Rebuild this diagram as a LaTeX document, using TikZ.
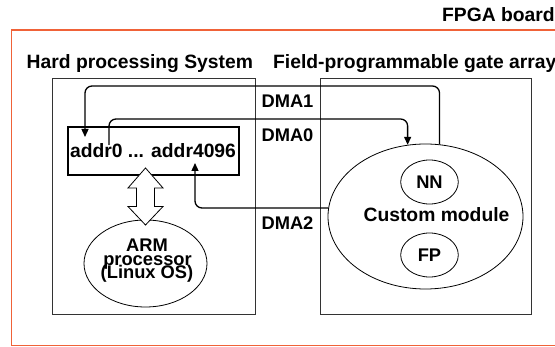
\documentclass[tikz,border=0pt]{standalone}
\usepackage{fontspec}
\setmainfont{Liberation Sans}
\usetikzlibrary{shapes.geometric,arrows.meta}
\definecolor{boardorange}{RGB}{240,98,56}

\begin{document}
\begin{tikzpicture}[x=1pt,y=-1pt,
  heading/.style={font=\bfseries\fontsize{19.3}{23}\selectfont, inner sep=0},
  tag/.style={font=\bfseries\fontsize{18.3}{22}\selectfont, inner sep=0},
  region/.style={draw=black!80, line width=0.9pt, rectangle, inner sep=0},
  oval/.style={draw, ellipse, line width=0.8pt, inner sep=0},
  link/.style={draw, line width=1.3pt, rounded corners=7pt,
    -{Triangle[length=8pt,width=7pt]}}
]
\useasboundingbox (0,0) rectangle (555,347);

% board outline (continues past the right edge)
\draw[draw=boardorange, line width=1.6pt] (11.5,30) rectangle (600,345.5);
\node[heading, anchor=base west] (boardtitle) at (442,21.5) {FPGA board};

% the two halves of the board
\node[heading, anchor=base west] (hpstitle) at (26.5,68.5) {Hard processing System};
\node[heading, anchor=base west] (fpgatitle) at (273,68.5) {Field-programmable gate array};
\node[region, minimum width=203, minimum height=236] (hps) at (153.5,196) {};
\node[region, minimum width=211, minimum height=236] (fpga) at (425.5,196) {};

% shared memory buffer
\node[draw, line width=1.1pt, rectangle, inner sep=0,
      minimum width=171, minimum height=48] (addr) at (153.5,151) {};
\node[heading, anchor=base] (addrtext) at (153,157.5) {addr0 ... addr4096};

% processor
\node[oval, minimum width=123, minimum height=87] (arm) at (145.5,263.5) {};
\node[tag, anchor=base] (armline1) at (147,251.5) {ARM};
\node[tag, anchor=base] (armline2) at (147.5,266) {processor};
\node[tag, anchor=base] (armline3) at (147,279) {(Linux OS)};

% custom module on the FPGA
\node[oval, minimum width=195, minimum height=145] (cm) at (425.5,216.5) {};
\node[heading, anchor=base] (cmtext) at (436.5,222) {Custom module};
\node[oval, tag, minimum width=57.6, minimum height=44] (nn) at (429.5,182) {NN};
\node[oval, tag, minimum width=57.6, minimum height=44] (fp) at (429.5,255) {FP};

% hollow two-way bus between buffer and processor
\coordinate (bus) at (145.5,196.5);
\draw[fill=white, line width=0.8pt, line join=miter]
  (bus) ++(0,-28.5) -- ++(17.5,20) -- ++(-8.5,0) -- ++(0,18.5)
  -- ++(8.5,0) -- ++(-17.5,18.5) -- ++(-17.5,-18.5) -- ++(8.5,0)
  -- ++(0,-18.5) -- ++(-8.5,0) -- cycle;

% DMA channels
\coordinate (a1) at (85,137);
\coordinate (d0s) at (109,145);
\coordinate (a2) at (195,163);
\draw[link] (cm.79) -- (cm.79 |- 0,86) -| (a1);
\draw[link] (d0s) -- (d0s |- 0,119) -| (cm.104);
\draw[link] (cm.175) -| (a2);

\node[tag, anchor=base] (dma1) at (287.5,108) {DMA1};
\node[tag, anchor=base] (dma0) at (287.5,142) {DMA0};
\node[tag, anchor=base] (dma2) at (287.5,230) {DMA2};
\end{tikzpicture}
\end{document}
